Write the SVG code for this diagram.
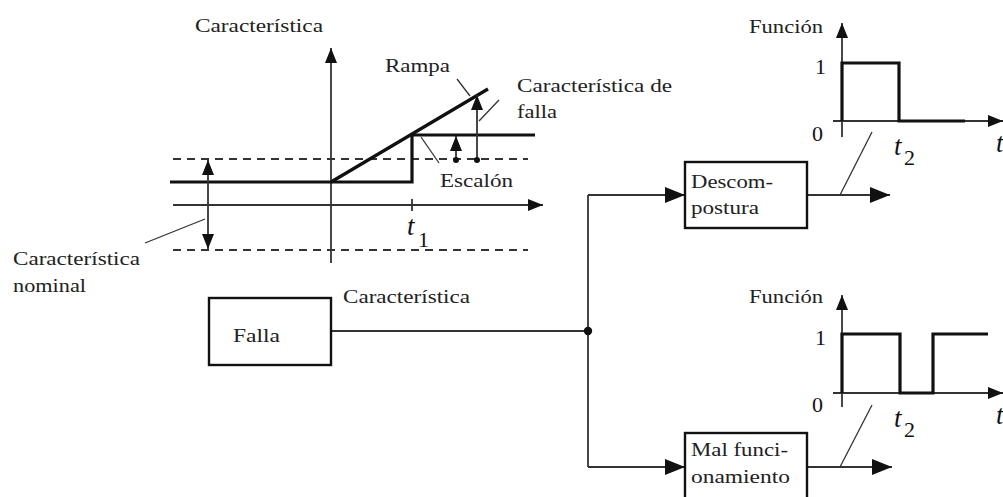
<svg xmlns="http://www.w3.org/2000/svg" width="1003" height="497" viewBox="0 0 1003 497">
  <style>
    .lbl { font-family: "Liberation Serif", "Times New Roman", serif; font-size: 19.5px; fill: #222; }
    .num { font-family: "Liberation Serif", "Times New Roman", serif; font-size: 22px; fill: #111; }
    .tvar { font-family: "Liberation Serif", "Times New Roman", serif; font-size: 27px; font-style: italic; fill: #111; }
    .axis { stroke: #333; stroke-width: 1.8; fill: none; }
    .thick { stroke: #111; stroke-width: 3.2; fill: none; stroke-linejoin: miter; }
    .dash { stroke: #333; stroke-width: 1.8; fill: none; stroke-dasharray: 8 6; }
    .leader { stroke: #333; stroke-width: 1.3; fill: none; }
    .box { fill: #fff; stroke: #111; stroke-width: 2.4; }
    .wire { stroke: #333; stroke-width: 1.8; fill: none; }
  </style>
  <defs>
    <marker id="arrow-lg" markerUnits="userSpaceOnUse" markerWidth="20" markerHeight="16" refX="20" refY="8" orient="auto">
      <path d="M0,0 L20,8 L0,16 z" fill="#111"/>
    </marker>
    <marker id="arrow-sm" markerUnits="userSpaceOnUse" markerWidth="15" markerHeight="12" refX="15" refY="6" orient="auto-start-reverse">
      <path d="M0,0 L15,6 L0,12 z" fill="#111"/>
    </marker>
  </defs>

  <rect width="1003" height="497" fill="#fff"/>

  <!-- Fault characteristic chart: ramp and step deviations from the nominal band -->
  <g id="chart-caracteristica">
    <text class="lbl" x="195" y="32" textLength="128" lengthAdjust="spacingAndGlyphs">Característica</text>
    <line class="axis" x1="331" y1="263" x2="331" y2="48" marker-end="url(#arrow-sm)"/>
    <line class="axis" x1="173" y1="205" x2="543" y2="205" marker-end="url(#arrow-sm)"/>
    <line class="axis" x1="412" y1="199" x2="412" y2="211"/>
    <line class="dash" x1="173" y1="159" x2="528" y2="159"/>
    <line class="dash" x1="173" y1="250" x2="528" y2="250"/>
    <polyline class="thick" points="170,182 412,182 412,135 535,135"/>
    <line class="thick" x1="331" y1="182" x2="488" y2="89"/>
    <!-- tolerance band of the nominal characteristic -->
    <line class="axis" x1="208" y1="160" x2="208" y2="249" marker-start="url(#arrow-sm)" marker-end="url(#arrow-sm)"/>
    <!-- deviation magnitudes -->
    <line class="axis" x1="456" y1="160" x2="456" y2="136" marker-end="url(#arrow-sm)"/>
    <circle cx="456" cy="160" r="3" fill="#111"/>
    <line class="axis" x1="477" y1="160" x2="477" y2="95" marker-end="url(#arrow-sm)"/>
    <circle cx="477" cy="160" r="3" fill="#111"/>
    <!-- callouts -->
    <line class="leader" x1="457" y1="79" x2="470" y2="96"/>
    <line class="leader" x1="479" y1="121" x2="499" y2="100"/>
    <line class="leader" x1="421" y1="137" x2="439" y2="163"/>
    <line class="leader" x1="145" y1="243" x2="205" y2="219"/>
    <text class="lbl" x="385" y="72" textLength="65" lengthAdjust="spacingAndGlyphs">Rampa</text>
    <text class="lbl" x="517" y="92" textLength="155" lengthAdjust="spacingAndGlyphs">Característica de</text>
    <text class="lbl" x="517" y="118" textLength="40" lengthAdjust="spacingAndGlyphs">falla</text>
    <text class="lbl" x="440" y="187" textLength="73" lengthAdjust="spacingAndGlyphs">Escalón</text>
    <text class="lbl" x="13" y="265" textLength="127" lengthAdjust="spacingAndGlyphs">Característica</text>
    <text class="lbl" x="13" y="292" textLength="73" lengthAdjust="spacingAndGlyphs">nominal</text>
    <text class="tvar" x="407" y="235">t</text>
    <text class="num" x="418" y="247">1</text>
  </g>

  <!-- Function signal after a breakdown: drops to 0 at t2 and stays -->
  <g id="chart-funcion-descompostura">
    <text class="lbl" x="749" y="33" textLength="74" lengthAdjust="spacingAndGlyphs">Función</text>
    <line class="axis" x1="842" y1="137" x2="842" y2="23" marker-end="url(#arrow-sm)"/>
    <line class="axis" x1="833" y1="121" x2="1003" y2="121" marker-end="url(#arrow-sm)"/>
    <polyline class="thick" points="842,121 842,63 899,63 899,121 965,121"/>
    <text class="num" x="815" y="74">1</text>
    <text class="num" x="812" y="141">0</text>
    <text class="tvar" x="894" y="155">t</text>
    <text class="num" x="904" y="165">2</text>
    <text class="tvar" x="996" y="152">t</text>
    <line class="leader" x1="872" y1="132" x2="840" y2="195"/>
  </g>

  <!-- Function signal during a malfunction: temporary drop to 0 -->
  <g id="chart-funcion-mal-funcionamiento">
    <text class="lbl" x="749" y="303" textLength="74" lengthAdjust="spacingAndGlyphs">Función</text>
    <line class="axis" x1="842" y1="407" x2="842" y2="295" marker-end="url(#arrow-sm)"/>
    <line class="axis" x1="833" y1="393" x2="1003" y2="393" marker-end="url(#arrow-sm)"/>
    <polyline class="thick" points="842,393 842,334 900,334 900,393 933,393 933,334 988,334"/>
    <text class="num" x="815" y="345">1</text>
    <text class="num" x="812" y="412">0</text>
    <text class="tvar" x="894" y="427">t</text>
    <text class="num" x="904" y="437">2</text>
    <text class="tvar" x="996" y="424">t</text>
    <line class="leader" x1="872" y1="405" x2="840" y2="467"/>
  </g>

  <!-- Connectors -->
  <g id="connectors">
    <line class="wire" x1="331" y1="331" x2="588" y2="331"/>
    <line class="wire" x1="588" y1="195" x2="588" y2="467"/>
    <polyline class="wire" points="588,195 685,195" marker-end="url(#arrow-lg)"/>
    <polyline class="wire" points="588,467 685,467" marker-end="url(#arrow-lg)"/>
    <line class="wire" x1="807" y1="195" x2="890" y2="195" marker-end="url(#arrow-lg)"/>
    <line class="wire" x1="807" y1="467" x2="892" y2="467" marker-end="url(#arrow-lg)"/>
    <circle cx="588" cy="331" r="4.2" fill="#111"/>
    <text class="lbl" x="343" y="303" textLength="127" lengthAdjust="spacingAndGlyphs">Característica</text>
  </g>

  <g id="node-falla">
    <rect class="box" x="209" y="298" width="122" height="67"/>
    <text class="lbl" x="233" y="342" textLength="47" lengthAdjust="spacingAndGlyphs">Falla</text>
  </g>

  <g id="node-descompostura">
    <rect class="box" x="685" y="162" width="122" height="66"/>
    <text class="lbl" x="691" y="188" textLength="82" lengthAdjust="spacingAndGlyphs">Descom-</text>
    <text class="lbl" x="691" y="214" textLength="68" lengthAdjust="spacingAndGlyphs">postura</text>
  </g>

  <g id="node-mal-funcionamiento">
    <rect class="box" x="685" y="433" width="122" height="80"/>
    <text class="lbl" x="691" y="456" textLength="97" lengthAdjust="spacingAndGlyphs">Mal funci-</text>
    <text class="lbl" x="691" y="483" textLength="99" lengthAdjust="spacingAndGlyphs">onamiento</text>
  </g>
</svg>
